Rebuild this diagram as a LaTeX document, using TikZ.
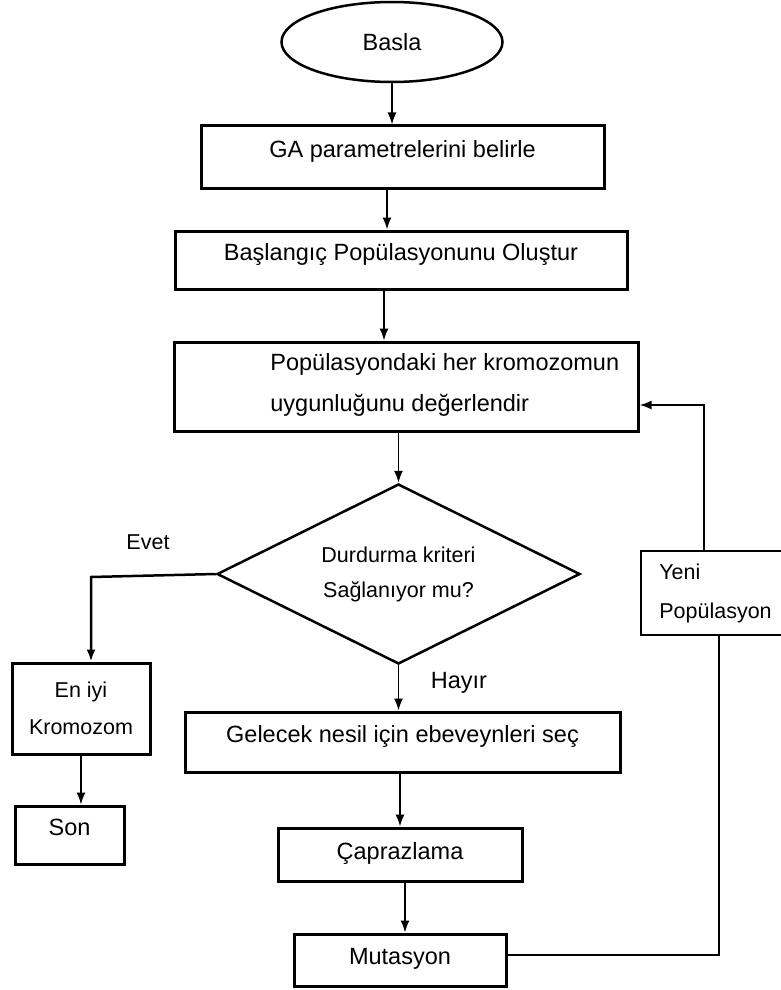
\documentclass[tikz,border=0pt]{standalone}
\usepackage{fontspec}
\setmainfont{Liberation Sans}
\usetikzlibrary{shapes.geometric}
\usetikzlibrary{arrows.meta}

\begin{document}
\begin{tikzpicture}[x=0.5pt,y=-0.5pt,
box/.style={draw,line width=1.5pt,inner sep=0pt,font=\fontsize{11.75}{14}\selectfont},
up/.style={text height=8.5pt,text depth=8.5pt},
small/.style={font=\fontsize{10.75}{13}\selectfont},
arr/.style={-{Latex[length=6pt,width=4.5pt]},line width=0.75pt}]
\useasboundingbox (0,0) rectangle (781,990);
\node[ellipse,draw,line width=1.25pt,minimum width=110.5pt,minimum height=40pt,inner sep=0pt,font=\fontsize{11.75}{14}\selectfont] (basla) at (392,42) {Basla};
\node[box,up,minimum width=201.5pt,minimum height=31pt] (ga) at (402.5,157) {GA parametrelerini belirle};
\node[box,up,minimum width=226pt,minimum height=29pt] (bas) at (401,260) {Başlangıç Popülasyonunu Oluştur};
\node[box,minimum width=232pt,minimum height=44.5pt] (pop) at (406,386.5) {};
\node[align=left,anchor=west,inner sep=0pt,font=\fontsize{11.75}{20.5}\selectfont] (popt) at (270,385) {Popülasyondaki her kromozomun\\uygunluğunu değerlendir};
\node[diamond,draw,line width=1.25pt,aspect=2,minimum width=181.5pt,minimum height=90pt,inner sep=0pt,align=center,font=\fontsize{10.75}{17.5}\selectfont] (dia) at (398.5,574) {Durdurma kriteri\\Sağlanıyor mu?};
\node[small] (evet) at (148,542) {Evet};
\node[font=\fontsize{11.75}{14}\selectfont] (hayir) at (459,683) {Hayır};
\node[box,align=center,font=\fontsize{10.75}{18.5}\selectfont,minimum width=69pt,minimum height=45.5pt] (eniyi) at (81,708.5) {En iyi\\Kromozom};
\node[box,up,minimum width=54.5pt,minimum height=29pt] (son) at (69.5,835) {Son};
\node[box,up,minimum width=217.5pt,minimum height=30pt] (gel) at (402.5,742) {Gelecek nesil için ebeveynleri seç};
\node[box,up,text depth=4pt,minimum width=122pt,minimum height=26.5pt] (cap) at (400,854.5) {Çaprazlama};
\node[box,up,text depth=4pt,minimum width=106pt,minimum height=26pt] (mut) at (400,960) {Mutasyon};
\node[box,line width=1.25pt,align=left,font=\fontsize{10.75}{19.5}\selectfont,minimum width=74.5pt,minimum height=42pt] (yeni) at (715.5,593) {Yeni\\Popülasyon};
\coordinate (ev) at (91,577);
\coordinate (rt) at (719,955);
\coordinate (fb) at (704,405);
\draw[arr] (basla.south) -- (ga.north -| basla.south);
\draw[arr] (ga.south -| 387,0) -- (bas.north -| 387,0);
\draw[arr] (bas.south -| 384,0) -- (pop.north -| 384,0);
\draw[arr] (pop.south -| dia.north) -- (dia.north);
\draw[arr] (dia.south) -- (gel.north -| dia.south);
\draw[arr] (gel.south -| cap.north) -- (cap.north);
\draw[arr] (cap.south -| 405,0) -- (mut.north -| 405,0);
\draw[arr] (eniyi.south) -- (son.north -| eniyi.south);
\draw[arr,line width=1.25pt] (dia.west) -- (ev) -- (ev |- eniyi.north);
\draw[line width=1.25pt] (mut.east |- rt) -- (rt) -- (rt |- yeni.south);
\draw[arr,line width=1pt] (fb |- yeni.north) -- (fb) -- (fb -| pop.east);
\end{tikzpicture}
\end{document}
